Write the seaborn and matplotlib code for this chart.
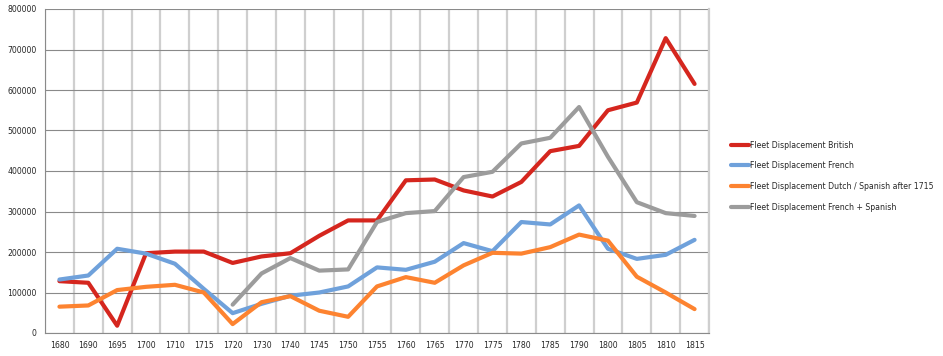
import matplotlib

matplotlib.use("Agg")
import matplotlib.pyplot as plt
import numpy as np
import pandas as pd
import seaborn as sns
from matplotlib.ticker import FuncFormatter, MultipleLocator, FixedLocator

# --- data ---------------------------------------------------------------- #
years = ["1680", "1690", "1695", "1700", "1710", "1715", "1720", "1730", "1740",
         "1745", "1750", "1755", "1760", "1765", "1770", "1775", "1780", "1785",
         "1790", "1800", "1805", "1810", "1815"]

british = [128000, 124000, 18000, 197000, 201000, 201000, 173000, 189000, 197000,
           240000, 278000, 278000, 377000, 379000, 352000, 337000, 373000, 449000,
           462000, 550000, 569000, 728000, 615000]
french = [132000, 142000, 208000, 196000, 171000, 109000, 49000, 72000, 92000,
          100000, 115000, 162000, 156000, 176000, 222000, 202000, 274000, 268000,
          315000, 208000, 183000, 193000, 230000]
dutch_spanish = [65000, 68000, 106000, 114000, 119000, 100000, 22000, 76000, 91000,
                 55000, 40000, 115000, 138000, 124000, 167000, 198000, 196000, 212000,
                 243000, 228000, 139000, 100000, 59000]
french_spanish = [np.nan, np.nan, np.nan, np.nan, np.nan, np.nan, 70000, 147000, 185000,
                  154000, 157000, 274000, 296000, 301000, 385000, 398000, 468000, 482000,
                  558000, 435000, 323000, 296000, 289000]

series_names = [
    "Fleet Displacement British",
    "Fleet Displacement French",
    "Fleet Displacement Dutch / Spanish after 1715",
    "Fleet Displacement French + Spanish",
]
series_values = [british, french, dutch_spanish, french_spanish]
colors = ["#d5261e", "#6fa1db", "#fd8330", "#9c9c9c"]

rows = []
for name, vals in zip(series_names, series_values):
    for yr, v in zip(years, vals):
        rows.append({"year": yr, "value": v, "series": name})
df = pd.DataFrame(rows)

# --- plot ------------------------------------------------------------------ #
sns.set_style("white")
plt.rcParams["font.family"] = ["DejaVu Sans"]

fig = plt.figure(figsize=(9.43, 3.56), dpi=100)
ax = fig.add_axes([45 / 943, 1 - 333 / 356, (709 - 45) / 943, (333 - 9) / 356])

sns.lineplot(
    data=df.dropna(),
    x="year",
    y="value",
    hue="series",
    hue_order=series_names,
    palette=dict(zip(series_names, colors)),
    linewidth=3,
    sort=False,
    ax=ax,
)

ax.set_xlim(-0.5, len(years) - 0.5)
ax.set_ylim(0, 800000)
ax.set_xlabel("")
ax.set_ylabel("")

# horizontal gridlines
grid_dark = "#8a8a8a"
grid_light = "#cfcfcf"
ax.yaxis.set_major_locator(MultipleLocator(100000))
ax.yaxis.set_major_formatter(FuncFormatter(lambda v, p: f"{int(v)}"))
ax.grid(axis="y", which="major", color=grid_dark, linewidth=0.8)

# vertical gridlines between categories
ax.xaxis.set_minor_locator(FixedLocator(np.arange(len(years) + 1) - 0.5))
ax.grid(axis="x", which="minor", color=grid_light, linewidth=1.6)
ax.grid(axis="x", which="major", visible=False)
ax.set_axisbelow(True)

ax.tick_params(axis="x", which="major", length=0, labelsize=5.6, pad=6)
ax.tick_params(axis="x", which="minor", length=5, width=1.6, color=grid_light, direction="out")
ax.tick_params(axis="y", which="major", length=4, width=0.8, color=grid_dark,
               direction="out", labelsize=5.6, pad=2)

for side in ["left", "bottom"]:
    ax.spines[side].set_color(grid_dark)
    ax.spines[side].set_linewidth(0.8)
ax.spines["top"].set_visible(False)
ax.spines["right"].set_color(grid_light)
ax.spines["right"].set_linewidth(1.6)

handles, labels = ax.get_legend_handles_labels()
ax.legend(
    handles, labels,
    loc="center left",
    bbox_to_anchor=(724 / 943, 1 - 176 / 356),
    bbox_transform=fig.transFigure,
    frameon=False,
    fontsize=5.6,
    handlelength=2.3,
    handletextpad=0.1,
    labelspacing=1.5,
)

fig.savefig("out.png", dpi=100)
